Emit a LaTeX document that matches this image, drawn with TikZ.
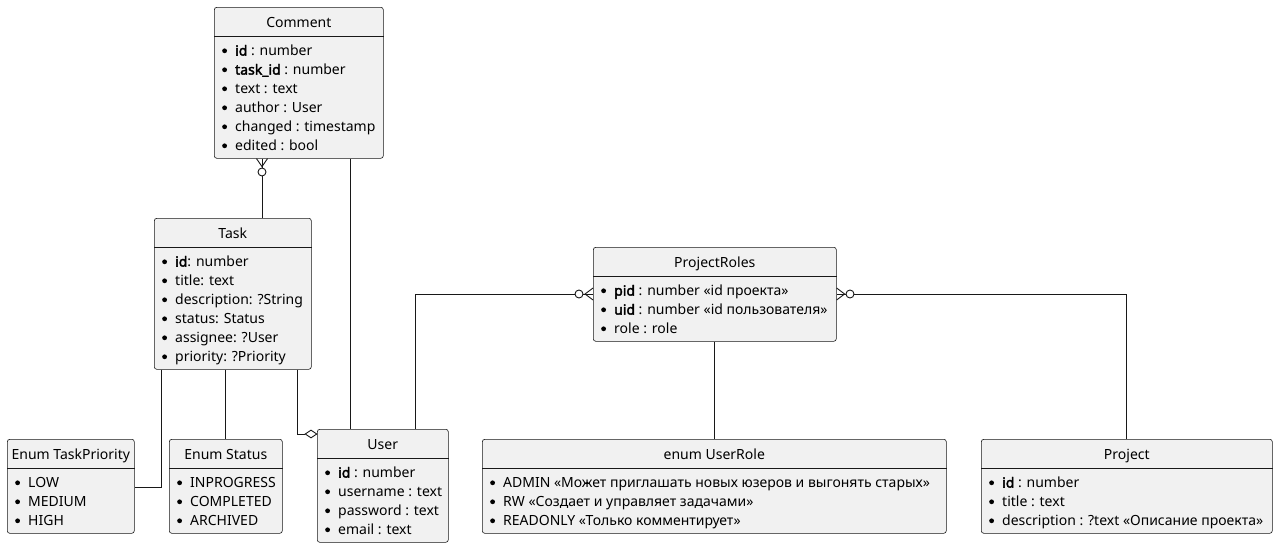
\documentclass[tikz,border=0pt]{standalone}
\usepackage{fontspec}
\setmainfont{Noto Sans}[AutoFakeBold=2.5]
\usetikzlibrary{calc,shapes.geometric}
\definecolor{boxfill}{HTML}{F1F1F1}
\definecolor{boxline}{HTML}{181818}
\newcommand{\eb}{\makebox[13pt][l]{\tikz[baseline=0pt]\fill[black] (2.5pt,4.8pt) circle (2.4pt);}}
\begin{document}
\begin{tikzpicture}[x=1pt, y=-1pt,
    entity/.style={draw=boxline, fill=boxfill, line width=0.6pt, rounded corners=2.5pt, inner sep=0pt, anchor=north west},
    head/.style={anchor=base, inner sep=0pt, font=\fontsize{14}{19}\selectfont},
    attrs/.style={anchor=base west, align=left, inner sep=0pt, font=\fontsize{14}{19}\selectfont},
    sepline/.style={draw=boxline, line width=0.6pt},
    link/.style={draw=boxline, line width=0.9pt},
    zero/.style={circle, draw=boxline, line width=0.9pt, minimum size=8pt, inner sep=0pt},
    agg/.style={diamond, draw=boxline, fill=white, line width=0.9pt, aspect=1.5, minimum width=12pt, minimum height=8pt, inner sep=0pt}]

\fill[white] (0,0) rectangle (1278,549);

% Comment
\node[entity, minimum width=169pt, minimum height=151pt] (comment) at (214,7) {};
\node[head] (comment-title) at ($(comment.north)+(0,20)$) {Comment};
\draw[sepline] ($(comment.north west)+(0,29.5)$) -- ($(comment.north east)+(0,29.5)$);
\node[attrs] (comment-body) at ($(comment.south west)+(8,-8)$) {\eb\textbf{id} : number\\ \eb\textbf{task\_id} : number\\ \eb text : text\\ \eb author : User\\ \eb changed : timestamp\\ \eb edited : bool};

% Task
\node[entity, minimum width=157pt, minimum height=151pt] (task) at (154,218) {};
\node[head] (task-title) at ($(task.north)+(0,20)$) {Task};
\draw[sepline] ($(task.north west)+(0,29.5)$) -- ($(task.north east)+(0,29.5)$);
\node[attrs] (task-body) at ($(task.south west)+(8,-8)$) {\eb\textbf{id}: number\\ \eb title: text\\ \eb description: ?String\\ \eb status: Status\\ \eb assignee: ?User\\ \eb priority: ?Priority};

% ProjectRoles
\node[entity, minimum width=243pt, minimum height=94pt] (roles) at (593,247) {};
\node[head] (roles-title) at ($(roles.north)+(0,20)$) {ProjectRoles};
\draw[sepline] ($(roles.north west)+(0,29.5)$) -- ($(roles.north east)+(0,29.5)$);
\node[attrs] (roles-body) at ($(roles.south west)+(8,-8)$) {\eb\textbf{pid} : number «id проекта»\\ \eb\textbf{uid} : number «id пользователя»\\ \eb role : role};

% Enum TaskPriority
\node[entity, minimum width=127pt, minimum height=94pt] (priority) at (7,439) {};
\node[head] (priority-title) at ($(priority.north)+(0,20)$) {Enum TaskPriority};
\draw[sepline] ($(priority.north west)+(0,29.5)$) -- ($(priority.north east)+(0,29.5)$);
\node[attrs] (priority-body) at ($(priority.south west)+(8,-8)$) {\eb LOW\\ \eb MEDIUM\\ \eb HIGH};

% Enum Status
\node[entity, minimum width=113pt, minimum height=94pt] (status) at (169,439) {};
\node[head] (status-title) at ($(status.north)+(0,20)$) {Enum Status};
\draw[sepline] ($(status.north west)+(0,29.5)$) -- ($(status.north east)+(0,29.5)$);
\node[attrs] (status-body) at ($(status.south west)+(8,-8)$) {\eb INPROGRESS\\ \eb COMPLETED\\ \eb ARCHIVED};

% User
\node[entity, minimum width=131pt, minimum height=113pt] (user) at (317,429) {};
\node[head] (user-title) at ($(user.north)+(0,20)$) {User};
\draw[sepline] ($(user.north west)+(0,29.5)$) -- ($(user.north east)+(0,29.5)$);
\node[attrs] (user-body) at ($(user.south west)+(8,-8)$) {\eb\textbf{id} : number\\ \eb username : text\\ \eb password : text\\ \eb email : text};

% enum UserRole
\node[entity, minimum width=464pt, minimum height=94pt] (userrole) at (482,439) {};
\node[head] (userrole-title) at ($(userrole.north)+(0,20)$) {enum UserRole};
\draw[sepline] ($(userrole.north west)+(0,29.5)$) -- ($(userrole.north east)+(0,29.5)$);
\node[attrs] (userrole-body) at ($(userrole.south west)+(8,-8)$) {\eb ADMIN «Может приглашать новых юзеров и выгонять старых»\\ \eb RW «Создает и управляет задачами»\\ \eb READONLY «Только комментирует»};

% Project
\node[entity, minimum width=291pt, minimum height=94pt] (project) at (981,439) {};
\node[head] (project-title) at ($(project.north)+(0,20)$) {Project};
\draw[sepline] ($(project.north west)+(0,29.5)$) -- ($(project.north east)+(0,29.5)$);
\node[attrs] (project-body) at ($(project.south west)+(8,-8)$) {\eb\textbf{id} : number\\ \eb title : text\\ \eb description : ?text «Описание проекта»};

% Comment }o-- Task
\node[zero] (z-comment) at (262,172) {};
\draw[link] (task.north -| z-comment) -- (z-comment);
\draw[link] (z-comment) -- (comment.south -| z-comment);
\draw[link] ($(comment.south -| z-comment)+(-5.5,0)$) -- ($(comment.south -| z-comment)+(0,8)$) -- ($(comment.south -| z-comment)+(5.5,0)$);

% Comment -- User
\draw[link] (comment.south -| 350,0) -- (user.north -| 350,0);

% Task --o User
\node[agg] (agg-user) at (311,434) {};
\draw[link] (task.south -| 297,0) |- (agg-user);

% Task -- enums
\draw[link] (task.south -| 225,0) -- (status.north -| 225,0);
\draw[link] (task.south -| 161,0) |- (priority.east |- 0,487);

% User --o{ ProjectRoles
\node[zero] (z-user) at (579,294) {};
\draw[link] (user.north -| 415,0) |- (z-user);
\draw[link] (z-user) -- (roles.west |- z-user);
\draw[link] ($(roles.west |- z-user)+(0,-6)$) -- ($(roles.west |- z-user)+(-8,0)$) -- ($(roles.west |- z-user)+(0,6)$);

% ProjectRoles }o-- Project
\node[zero] (z-project) at (850,294) {};
\draw[link] (z-project) -| (project.north -| 1126,0);
\draw[link] (z-project) -- (roles.east |- z-project);
\draw[link] ($(roles.east |- z-project)+(0,-6)$) -- ($(roles.east |- z-project)+(8,0)$) -- ($(roles.east |- z-project)+(0,6)$);

% ProjectRoles -- UserRole
\draw[link] (roles.south -| 714,0) -- (userrole.north -| 714,0);

\end{tikzpicture}
\end{document}
